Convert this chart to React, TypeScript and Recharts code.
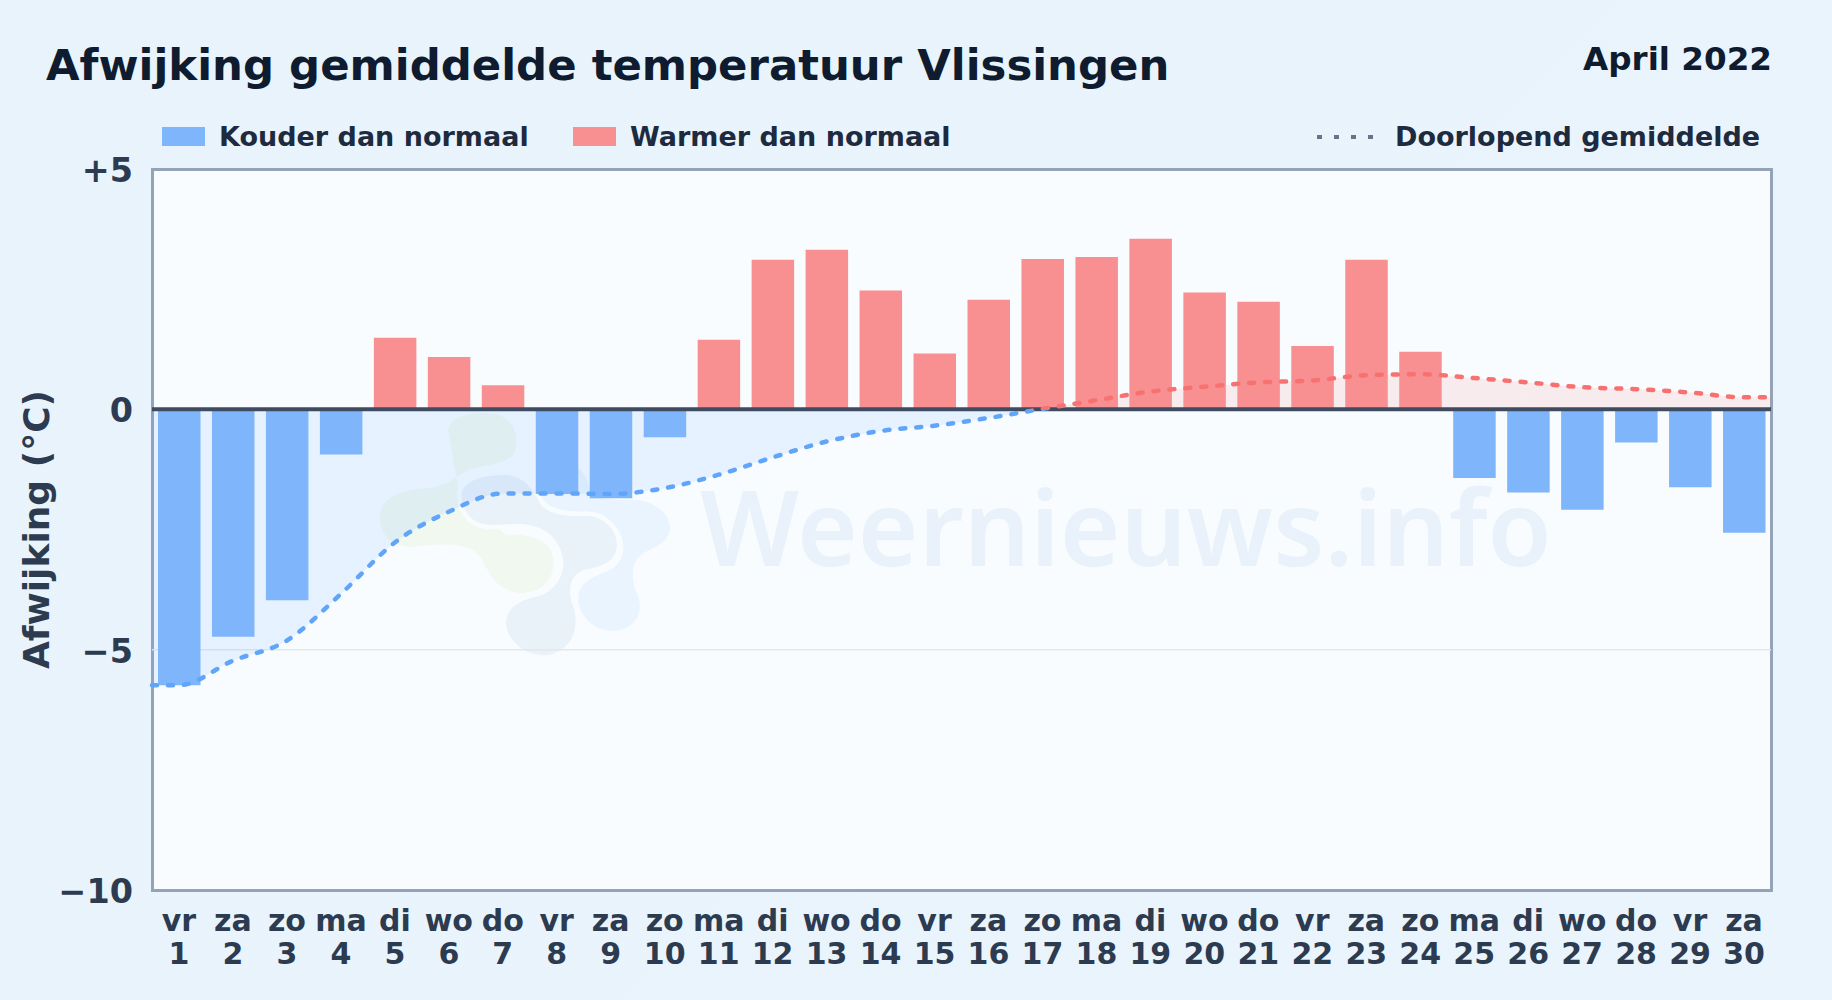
import { Area, Bar, CartesianGrid, Cell, ComposedChart, Line, ReferenceLine, XAxis, YAxis } from "recharts";

const weekdays = ["vr","za","zo","ma","di","wo","do","vr","za","zo","ma","di","wo","do","vr","za","zo","ma","di","wo","do","vr","za","zo","ma","di","wo","do","vr","za"];
const days = [1,2,3,4,5,6,7,8,9,10,11,12,13,14,15,16,17,18,19,20,21,22,23,24,25,26,27,28,29,30];
const deviation = [-5.74,-4.73,-3.97,-0.94,1.49,1.09,0.5,-1.76,-1.85,-0.58,1.45,3.11,3.32,2.47,1.16,2.28,3.13,3.17,3.55,2.43,2.24,1.32,3.11,1.2,-1.43,-1.73,-2.09,-0.69,-1.62,-2.57];
const runningMean = [-5.74,-5.23,-4.81,-3.84,-2.77,-2.13,-1.75,-1.75,-1.76,-1.64,-1.36,-1.0,-0.67,-0.45,-0.34,-0.18,0.01,0.19,0.37,0.47,0.56,0.6,0.71,0.73,0.65,0.56,0.46,0.42,0.35,0.25];
const yTicks = [-10, -5, 0, 5];
const gridValues = [-5];

const COLD = "#7fb5fb";
const WARM = "#f88f90";
const COLD_LINE = "#60a5fa";
const WARM_LINE = "#f87171";
const TICK = "#2d3b50";
const INK = "#0f1b2f";
const FONT = "'DejaVu Sans', sans-serif";

const barRows = days.map((d, i) => ({ x: d, dev: deviation[i] }));
// mean line runs out to both plot edges, so it gets two extra rows and its own hidden x axis
const meanRows = [
  { x: 0.5, mean: runningMean[0] },
  ...days.map((d, i) => ({ x: d, mean: runningMean[i] })),
  { x: 30.5, mean: runningMean[29] },
];

const meanMax = Math.max(...runningMean);
const meanMin = Math.min(...runningMean);
const zeroStop = meanMax / (meanMax - meanMin);

const formatY = (v: number) => (v > 0 ? `+${v}` : v < 0 ? `\u2212${-v}` : "0");

function DayTick({ x, y, payload }: any) {
  const i = days.indexOf(payload.value);
  return (
    <text x={x} y={y} textAnchor="middle" fill={TICK} fontFamily={FONT} fontWeight={700} fontSize={30}>
      <tspan x={x} dy={33}>{weekdays[i]}</tspan>
      <tspan x={x} dy={33}>{payload.value}</tspan>
    </text>
  );
}

function Swatch({ color, left }: { color: string; left: number }) {
  return <div style={{ position: "absolute", left, top: 127, width: 43, height: 19, background: color }} />;
}

function Label({ left, right, top, size, color, children }: any) {
  return (
    <div style={{ position: "absolute", left, right, top, fontSize: size, color, fontFamily: FONT, fontWeight: 700, lineHeight: 1, whiteSpace: "nowrap" }}>
      {children}
    </div>
  );
}

function Watermark() {
  return (
    <svg width={1832} height={1000} style={{ position: "absolute", left: 0, top: 0 }}>
      <g transform="translate(360 400) scale(0.3333)">
        <path d="M580 200 C640 170 690 220 690 280 C720 300 780 300 820 300 C880 300 930 340 930 385 C925 435 880 440 850 460 C815 480 810 530 830 580 C855 630 830 690 760 692 C700 695 650 640 655 590 C660 540 710 530 760 505 C790 480 800 440 780 400 C765 360 690 335 640 345 C590 345 540 310 530 270 Z" fill="#e9f4fe" />
        <path d="M265 90 C270 50 330 35 390 40 C450 45 475 90 468 140 C462 190 400 190 340 205 C290 220 275 260 200 265 C130 270 60 290 60 350 C60 410 100 440 160 440 C220 435 290 425 340 450 C385 480 380 560 470 578 C540 585 585 540 580 480 C575 420 510 400 440 405 L300 300 Z" fill="#f0f8ef" />
        <path d="M305 280 C310 240 380 222 440 225 C490 228 520 270 540 310 C565 345 620 350 680 348 C740 350 775 400 770 440 C765 490 720 500 670 510 C630 525 620 570 640 620 C655 670 650 740 570 765 C500 775 440 720 438 670 C440 620 480 600 530 590 C590 575 615 520 610 480 C600 420 560 375 480 372 C420 372 360 385 330 350 C310 330 303 300 305 280 Z" fill="#e9f1f9" stroke="#f8fcff" strokeWidth={28} paintOrder="stroke" />
      </g>
      <text x={700} y={566} fontFamily="'Noto Sans', 'Open Sans', sans-serif" fontWeight={600} fontSize={104} fill="#e9f2fa">Weernieuws.info</text>
    </svg>
  );
}

export default function App() {
  return (
    <div style={{ position: "absolute", left: 0, top: 0, width: 1832, height: 1000, overflow: "hidden", background: "linear-gradient(135deg, #e8f3fc, #eaf4fd)" }}>
      <Label left={46} top={44} size={43.4} color={INK}>Afwijking gemiddelde temperatuur Vlissingen</Label>
      <Label right={60} top={43} size={32.6} color={INK}>April 2022</Label>

      <Swatch color={COLD} left={162} />
      <Label left={219} top={123} size={27} color="#1e2a3d">Kouder dan normaal</Label>
      <Swatch color={WARM} left={573} />
      <Label left={630} top={123} size={27} color="#1e2a3d">Warmer dan normaal</Label>
      <svg width={70} height={10} style={{ position: "absolute", left: 1317, top: 132 }}>
        <line x1={0} y1={5} x2={60} y2={5} stroke="#64748b" strokeWidth={4} strokeDasharray="5 12" />
      </svg>
      <Label left={1395} top={123} size={27} color="#1e2a3d">Doorlopend gemiddelde</Label>

      <div style={{ position: "absolute", left: 151, top: 168, width: 1622, height: 724, background: "#f8fcff", border: "3px solid #94a3b8", boxSizing: "border-box" }} />
      <Watermark />

      <div style={{ position: "absolute", left: 0, top: 0 }}>
        <ComposedChart width={1832} height={1000} data={barRows} margin={{ top: 169, right: 61, bottom: 0, left: 0 }}>
          <defs>
            <linearGradient id="meanFill" x1="0" y1="0" x2="0" y2="1">
              <stop offset={zeroStop} stopColor={WARM_LINE} stopOpacity={0.2} />
              <stop offset={zeroStop} stopColor={COLD_LINE} stopOpacity={0.2} />
            </linearGradient>
            <linearGradient id="meanStroke" x1="0" y1="0" x2="0" y2="1">
              <stop offset={zeroStop} stopColor={WARM_LINE} />
              <stop offset={zeroStop} stopColor={COLD_LINE} />
            </linearGradient>
          </defs>
          <CartesianGrid vertical={false} horizontalValues={gridValues} stroke="#e2e8f0" strokeWidth={1.5} />
          <XAxis
            dataKey="x"
            type="number"
            domain={[0.5, 30.5]}
            ticks={days}
            interval={0}
            height={110}
            tick={<DayTick />}
            axisLine={false}
            tickLine={false}
          />
          <XAxis xAxisId="edge" dataKey="x" type="number" domain={[0.5, 30.5]} hide />
          <YAxis
            domain={[-10, 5]}
            ticks={yTicks}
            width={152}
            tickFormatter={formatY}
            tick={{ fill: TICK, fontFamily: FONT, fontWeight: 700, fontSize: 33.4, dy: 1 }}
            tickMargin={13}
            axisLine={false}
            tickLine={false}
            label={{ value: "Afwijking (\u00b0C)", angle: -90, position: "insideLeft", offset: 36, textAnchor: "middle", fill: TICK, fontFamily: FONT, fontWeight: 700, fontSize: 36 }}
          />
          <Area xAxisId="edge" data={meanRows} dataKey="mean" type="monotone" baseValue={0} fill="url(#meanFill)" stroke="none" dot={false} activeDot={false} isAnimationActive={false} />
          <Bar dataKey="dev" barSize={42.5} isAnimationActive={false}>
            {barRows.map((r, i) => (
              <Cell key={i} fill={r.dev < 0 ? COLD : WARM} />
            ))}
          </Bar>
          <ReferenceLine y={0} stroke="#3f4b60" strokeWidth={4} />
          <Line xAxisId="edge" data={meanRows} dataKey="mean" type="monotone" stroke="url(#meanStroke)" strokeWidth={4.5} strokeLinecap="round" strokeDasharray="5 11" dot={false} activeDot={false} isAnimationActive={false} />
        </ComposedChart>
      </div>
    </div>
  );
}
